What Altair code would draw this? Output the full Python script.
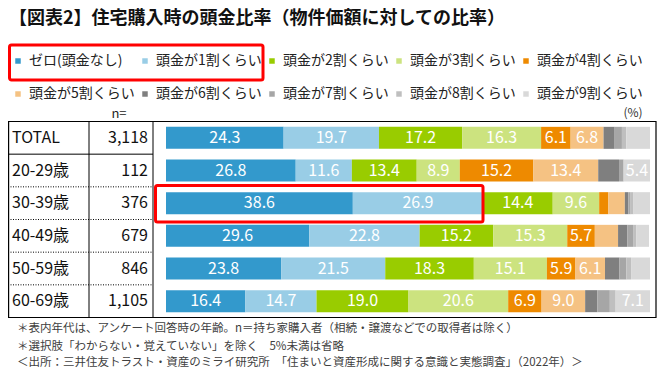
import altair as alt
import pandas as pd

FONT = "Noto Sans CJK JP"

title_text = "【図表2】住宅購入時の頭金比率（物件価額に対しての比率）"
rows = ["TOTAL", "20-29歳", "30-39歳", "40-49歳", "50-59歳", "60-69歳"]
n_values = ["3,118", "112", "376", "679", "846", "1,105"]
cats = ["ゼロ(頭金なし)", "頭金が1割くらい", "頭金が2割くらい", "頭金が3割くらい", "頭金が4割くらい",
        "頭金が5割くらい", "頭金が6割くらい", "頭金が7割くらい", "頭金が8割くらい", "頭金が9割くらい"]
colors = ["#3399CC", "#99CDE6", "#99CC00", "#CCE37F", "#EE8A00",
          "#F5C283", "#7F7F7F", "#A6A6A6", "#BFBFBF", "#D9D9D9"]

# values per category, in row order
zero = [24.3, 26.8, 38.6, 29.6, 23.8, 16.4]
w1 = [19.7, 11.6, 26.9, 22.8, 21.5, 14.7]
w2 = [17.2, 13.4, 14.4, 15.2, 18.3, 19.0]
w3 = [16.3, 8.9, 9.6, 15.3, 15.1, 20.6]
w4 = [6.1, 15.2, 1.9, 5.7, 5.9, 6.9]
w5 = [6.8, 13.4, 3.4, 4.8, 6.1, 9.0]
w6 = [2.3, 4.3, 0.7, 1.9, 3.0, 2.5]
w7 = [1.5, 0.9, 0.5, 1.2, 1.4, 2.6]
w8 = [0.9, 0.1, 0.6, 0.7, 1.0, 1.2]
w9 = [4.9, 5.4, 3.4, 2.6, 3.9, 7.1]
series = [zero, w1, w2, w3, w4, w5, w6, w7, w8, w9]

notes = [
    "＊表内年代は、アンケート回答時の年齢。n＝持ち家購入者（相続・譲渡などでの取得者は除く）",
    "＊選択肢「わからない・覚えていない」を除く　5%未満は省略",
    "＜出所：三井住友トラスト・資産のミライ研究所　「住まいと資産形成に関する意識と実態調査」（2022年）＞",
]

recs = []
for ci, (c, vals) in enumerate(zip(cats, series)):
    for r, v in zip(rows, vals):
        recs.append({"row": r, "cat": c, "idx": ci, "value": v})
df = pd.DataFrame(recs)
df_rows = pd.DataFrame({"row": rows, "n": n_values})

xscale = alt.Scale(domain=[0, 100], range=[158, 642], nice=False)
yscale = alt.Scale(domain=rows, range=[113.5, 309.5], paddingInner=0, paddingOuter=0)

Y = alt.Y("row:N", scale=yscale, axis=None, sort=rows)

legend = alt.Legend(orient="none", legendX=3, legendY=46, direction="horizontal", columns=5,
                    title=None, symbolType="square", symbolSize=30, symbolStrokeWidth=0,
                    labelFont=FONT, labelFontSize=14, labelColor="#222222", labelOffset=4,
                    columnPadding=3, rowPadding=19, gridAlign="all", labelLimit=300)

bars = alt.Chart(df).mark_bar(size=22).encode(
    y=Y,
    x=alt.X("value:Q", stack="zero", scale=xscale, axis=None),
    color=alt.Color("cat:N", scale=alt.Scale(domain=cats, range=colors), legend=legend),
    order=alt.Order("idx:Q"),
)

labels = alt.Chart(df).transform_stack(
    stack="value", as_=["s0", "s1"], groupby=["row"], sort=[alt.SortField("idx")]
).transform_calculate(mid="(datum.s0 + datum.s1) / 2").transform_filter(
    "datum.value >= 5"
).mark_text(font=FONT, fontSize=16, color="white", baseline="middle", align="center").encode(
    y=Y,
    x=alt.X("mid:Q", scale=xscale, axis=None),
    text=alt.Text("value:Q", format=".1f"),
)

row_lbl = alt.Chart(df_rows).mark_text(font=FONT, fontSize=16, color="#111111", align="left",
                                         baseline="middle").encode(
    y=Y, x=alt.value(4), text="row:N")
n_lbl = alt.Chart(df_rows).mark_text(font=FONT, fontSize=16, color="#111111", align="right",
                                       baseline="middle").encode(
    y=Y, x=alt.value(140), text="n:N")

sep_solid = alt.Chart(df_rows.iloc[1:2]).mark_rule(color="black", strokeWidth=1).encode(
    y=alt.Y("row:N", scale=yscale, axis=None, sort=rows, bandPosition=0),
    x=alt.value(0), x2=alt.value(145))
sep_dot = alt.Chart(df_rows.iloc[2:]).mark_rule(color="black", strokeWidth=1, strokeDash=[1, 1.5]).encode(
    y=alt.Y("row:N", scale=yscale, axis=None, sort=rows, bandPosition=0),
    x=alt.value(0), x2=alt.value(145))

one = alt.Data(values=[{"a": 1}])
border = alt.Chart(one).mark_rect(fillOpacity=0, stroke="black", strokeWidth=1.2).encode(
    x=alt.value(0.6), x2=alt.value(648), y=alt.value(113.5), y2=alt.value(309.5))
vline1 = alt.Chart(one).mark_rule(color="black", strokeWidth=1).encode(
    x=alt.value(81), y=alt.value(113.5), y2=alt.value(309.5))
vline2 = alt.Chart(one).mark_rule(color="black", strokeWidth=1).encode(
    x=alt.value(145), y=alt.value(113.5), y2=alt.value(309.5))

red1 = alt.Chart(one).mark_rect(fillOpacity=0, stroke="#FF0000", strokeWidth=3, cornerRadius=2).encode(
    x=alt.value(1.5), x2=alt.value(255), y=alt.value(37), y2=alt.value(72))
red2 = alt.Chart(one).mark_rect(fillOpacity=0, stroke="#FF0000", strokeWidth=3, cornerRadius=2).encode(
    x=alt.value(147.5), x2=alt.value(475), y=alt.value(177.5), y2=alt.value(214))

title = alt.Chart(one).mark_text(font=FONT, fontSize=18, fontWeight="bold", color="#111111",
                                   align="left", baseline="middle").encode(
    x=alt.value(1), y=alt.value(11), text=alt.value(title_text))
pct = alt.Chart(one).mark_text(font=FONT, fontSize=12, color="#333333", align="center",
                                 baseline="middle").encode(
    x=alt.value(625), y=alt.value(105), text=alt.value("(%)"))
nlab = alt.Chart(one).mark_text(font=FONT, fontSize=13, color="#222222", align="center",
                                  baseline="middle").encode(
    x=alt.value(111), y=alt.value(106), text=alt.value("n="))

note_y = [321, 338.5, 355]
note_layers = []
for i, t in enumerate(notes):
    note_layers.append(alt.Chart(one).mark_text(font=FONT, fontSize=11.5, color="#404040", align="left",
                                                 baseline="middle").encode(
        x=alt.value(9), y=alt.value(note_y[i]), text=alt.value(t)))

chart = alt.layer(
    bars, labels, row_lbl, n_lbl, sep_solid, sep_dot, border, vline1, vline2,
    red1, red2, title, pct, nlab, *note_layers
).properties(
    width=654, height=365, padding=0,
    autosize=alt.AutoSizeParams(type="none"),
).configure_view(stroke=None)

chart.save("out.html", embed_options={"renderer": "svg", "actions": False})
